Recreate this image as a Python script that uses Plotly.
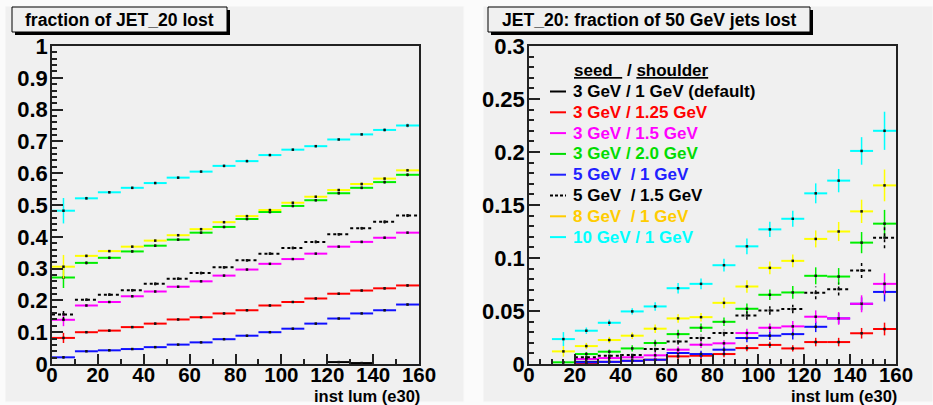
import plotly.graph_objects as go

# ---------------------------------------------------------------- data
BIN_CENTERS = [5, 15, 25, 35, 45, 55, 65, 75, 85, 95, 105, 115, 125, 135, 145, 155]
BIN_HALF = 5

SERIES_NAMES = ["3 GeV / 1 GeV (default)", "3 GeV / 1.25 GeV", "3 GeV / 1.5 GeV",
                "3 GeV / 2.0 GeV", "5 GeV\u00a0\u00a0/ 1 GeV", "5 GeV\u00a0\u00a0/ 1.5 GeV",
                "8 GeV\u00a0\u00a0/ 1 GeV", "10 GeV / 1 GeV"]
LINE_COLORS = ["#000000", "#ff0000", "#ff00ff", "#00ee00", "#1010ff", "#000000", "#ffff00", "#00ffff"]
TEXT_COLORS = ["#000000", "#ff0000", "#ff00ff", "#00dd00", "#2020ff", "#000000", "#ffcc00", "#00ffff"]
DASHED = [False, False, False, False, False, True, False, False]

# fraction of JET_20 lost
default_l = [None, None, None, None, None, None, None, None, None, None, None, None, 0.006, 0.003, None, None]
red_l = [0.082, 0.100, 0.105, 0.116, 0.127, 0.140, 0.147, 0.159, 0.169, 0.184, 0.195, 0.206, 0.221, 0.231, 0.238, 0.247]
magenta_l = [0.139, 0.184, 0.195, 0.213, 0.228, 0.243, 0.260, 0.278, 0.297, 0.315, 0.330, 0.347, 0.369, 0.384, 0.397, 0.413]
green_l = [0.272, 0.318, 0.334, 0.354, 0.372, 0.391, 0.413, 0.431, 0.456, 0.478, 0.497, 0.515, 0.537, 0.554, 0.572, 0.595]
blue_l = [0.021, 0.040, 0.043, 0.047, 0.053, 0.061, 0.068, 0.078, 0.089, 0.100, 0.111, 0.127, 0.143, 0.159, 0.169, 0.187]
dotted_l = [0.156, 0.202, 0.218, 0.232, 0.252, 0.268, 0.286, 0.304, 0.326, 0.347, 0.365, 0.384, 0.408, 0.427, 0.447, 0.467]
yellow_l = [0.306, 0.340, 0.355, 0.369, 0.388, 0.405, 0.424, 0.446, 0.465, 0.484, 0.507, 0.526, 0.547, 0.566, 0.583, 0.609]
cyan_l = [0.482, 0.521, 0.540, 0.554, 0.569, 0.586, 0.605, 0.623, 0.638, 0.657, 0.674, 0.685, 0.706, 0.722, 0.736, 0.750]

default_le = [None, None, None, None, None, None, None, None, None, None, None, None, 0.003, 0.002, None, None]
red_le = [0.016, 0.003, 0.003, 0.003, 0.003, 0.003, 0.003, 0.003, 0.003, 0.003, 0.003, 0.003, 0.003, 0.003, 0.004, 0.004]
magenta_le = [0.020, 0.004, 0.003, 0.003, 0.003, 0.003, 0.003, 0.003, 0.003, 0.003, 0.003, 0.003, 0.004, 0.004, 0.004, 0.004]
green_le = [0.033, 0.005, 0.004, 0.004, 0.004, 0.004, 0.004, 0.004, 0.004, 0.004, 0.004, 0.004, 0.004, 0.004, 0.005, 0.005]
blue_le = [0.004, 0.002, 0.002, 0.002, 0.002, 0.002, 0.002, 0.002, 0.002, 0.002, 0.002, 0.002, 0.002, 0.002, 0.003, 0.003]
dotted_le = [0.018, 0.004, 0.004, 0.004, 0.004, 0.004, 0.004, 0.004, 0.004, 0.004, 0.004, 0.004, 0.004, 0.004, 0.005, 0.005]
yellow_le = [0.037, 0.005, 0.004, 0.004, 0.004, 0.004, 0.004, 0.004, 0.004, 0.004, 0.004, 0.004, 0.004, 0.005, 0.005, 0.005]
cyan_le = [0.040, 0.005, 0.004, 0.004, 0.004, 0.004, 0.004, 0.004, 0.004, 0.004, 0.004, 0.004, 0.004, 0.004, 0.005, 0.006]

# JET_20: fraction of 50 GeV jets lost
default_r = [None, None, 0.002, None, None, None, None, None, None, None, None, None, None, None, None, None]
red_r = [None, None, 0.001, 0.002, 0.003, 0.004, 0.0072, 0.0078, 0.0094, 0.015, 0.018, 0.0147, 0.0207, 0.0207, 0.029, 0.033]
magenta_r = [None, None, 0.0047, 0.0056, 0.0063, 0.0082, 0.0135, 0.0182, 0.0195, 0.0292, 0.0342, 0.0355, 0.0446, 0.043, 0.0568, 0.0756]
green_r = [None, 0.0016, 0.0094, 0.0116, 0.0147, 0.0198, 0.0282, 0.0342, 0.0398, 0.0521, 0.0653, 0.0675, 0.0832, 0.0825, 0.1145, 0.1324]
blue_r = [None, None, 0.0016, 0.002, 0.003, 0.004, 0.0104, 0.0094, 0.0135, 0.0245, 0.0267, 0.0282, 0.0351, 0.043, 0.0568, 0.068]
dotted_r = [None, None, 0.0063, 0.0078, 0.0085, 0.0141, 0.0213, 0.0245, 0.0292, 0.0458, 0.0505, 0.0518, 0.0671, 0.0706, 0.0882, 0.1192]
yellow_r = [None, 0.0119, 0.0169, 0.0226, 0.0267, 0.0333, 0.043, 0.0442, 0.0577, 0.0731, 0.0907, 0.0973, 0.118, 0.125, 0.144, 0.1685]
cyan_r = [None, 0.0235, 0.0314, 0.0389, 0.0496, 0.0543, 0.0715, 0.0756, 0.0932, 0.111, 0.127, 0.137, 0.161, 0.173, 0.201, 0.220]

default_re = [None, None, 0.001, None, None, None, None, None, None, None, None, None, None, None, None, None]
red_re = [None, None, 0.001, 0.001, 0.0015, 0.002, 0.003, 0.003, 0.003, 0.003, 0.003, 0.003, 0.004, 0.004, 0.005, 0.006]
magenta_re = [None, None, 0.002, 0.002, 0.002, 0.003, 0.003, 0.003, 0.003, 0.004, 0.004, 0.005, 0.006, 0.006, 0.008, 0.010]
green_re = [None, 0.001, 0.002, 0.002, 0.003, 0.003, 0.004, 0.004, 0.004, 0.005, 0.005, 0.006, 0.008, 0.008, 0.010, 0.013]
blue_re = [None, None, 0.001, 0.001, 0.0015, 0.002, 0.002, 0.003, 0.003, 0.004, 0.004, 0.005, 0.005, 0.005, 0.006, 0.009]
dotted_re = [None, None, 0.002, 0.002, 0.002, 0.003, 0.003, 0.003, 0.003, 0.004, 0.004, 0.004, 0.006, 0.006, 0.007, 0.010]
yellow_re = [None, 0.005, 0.003, 0.003, 0.003, 0.004, 0.004, 0.004, 0.005, 0.006, 0.006, 0.006, 0.008, 0.009, 0.011, 0.015]
cyan_re = [None, 0.0066, 0.003, 0.003, 0.003, 0.004, 0.005, 0.005, 0.006, 0.0074, 0.0072, 0.0075, 0.0094, 0.011, 0.013, 0.018]

LEFT_VALUES = [default_l, red_l, magenta_l, green_l, blue_l, dotted_l, yellow_l, cyan_l]
LEFT_ERRORS = [default_le, red_le, magenta_le, green_le, blue_le, dotted_le, yellow_le, cyan_le]
RIGHT_VALUES = [default_r, red_r, magenta_r, green_r, blue_r, dotted_r, yellow_r, cyan_r]
RIGHT_ERRORS = [default_re, red_re, magenta_re, green_re, blue_re, dotted_re, yellow_re, cyan_re]

LEFT_YTICKS = [0, 0.1, 0.2, 0.3, 0.4, 0.5, 0.6, 0.7, 0.8, 0.9, 1]
LEFT_YLABELS = ["0", "0.1", "0.2", "0.3", "0.4", "0.5", "0.6", "0.7", "0.8", "0.9", "1"]
RIGHT_YTICKS = [0, 0.05, 0.1, 0.15, 0.2, 0.25, 0.3]
RIGHT_YLABELS = ["0", "0.05", "0.1", "0.15", "0.2", "0.25", "0.3"]
XTICKS = [0, 20, 40, 60, 80, 100, 120, 140, 160]
XLABELS = ["0", "20", "40", "60", "80", "100", "120", "140", "160"]

LEFT_TITLE = "fraction of JET_20 lost"
RIGHT_TITLE = "JET_20: fraction of 50 GeV jets lost"
X_TITLE = "inst lum (e30)"
LEGEND_HEADER = "<u>seed\u00a0\u00a0</u>\u00a0/ <u>shoulder</u>"

# ---------------------------------------------------------------- layout helpers
W, H = 933, 405
FONT = "Liberation Sans, Arial, Helvetica, sans-serif"
PAD_BG = "#f0f0f0"


def px(x):
    return x / W


def py(y):
    return 1 - y / H


def segments(vals, errs):
    """Horizontal bin lines and vertical error bars, as None-separated paths."""
    hx, hy, vx, vy, mx, my = [], [], [], [], [], []
    for c, v, e in zip(BIN_CENTERS, vals, errs):
        if v is None:
            continue
        hx += [c - BIN_HALF, c + BIN_HALF, None]
        hy += [v, v, None]
        vx += [c, c, None]
        vy += [v - e, v + e, None]
        mx.append(c)
        my.append(v)
    return hx, hy, vx, vy, mx, my


fig = go.Figure()

# draw order: default, red, blue, magenta, green, dotted, yellow, cyan
ORDER = [0, 1, 4, 2, 3, 5, 6, 7]
for axis_suffix, values, errors in (("", LEFT_VALUES, LEFT_ERRORS), ("2", RIGHT_VALUES, RIGHT_ERRORS)):
    for i in ORDER:
        hx, hy, vx, vy, mx, my = segments(values[i], errors[i])
        dash = "3px,3px" if DASHED[i] else "solid"
        common = dict(xaxis="x" + axis_suffix, yaxis="y" + axis_suffix, showlegend=False,
                      hoverinfo="skip")
        fig.add_trace(go.Scatter(x=hx, y=hy, mode="lines",
                                 line=dict(color=LINE_COLORS[i], width=2, dash=dash), **common))
        fig.add_trace(go.Scatter(x=vx, y=vy, mode="lines",
                                 line=dict(color=LINE_COLORS[i], width=1.5, dash=dash), **common))
        fig.add_trace(go.Scatter(x=mx, y=my, mode="markers",
                                 marker=dict(color="#111111", size=2.5, symbol="square",
                                             line=dict(width=0)), **common))

LEFT_X = (52, 419)
RIGHT_X = (529, 896)
PLOT_Y = (46, 364)

axis_common = dict(showgrid=False, zeroline=False, showline=True, linecolor="#222222",
                   linewidth=1.5, mirror=True, ticks="inside", tickcolor="#222222",
                   tickwidth=1.5, fixedrange=True, automargin=False)


def xaxis_cfg(domain, minor_step):
    return dict(domain=[px(domain[0]), px(domain[1])], range=[0, 160],
                tickvals=XTICKS, ticktext=XLABELS, ticklen=10, ticklabelstandoff=-8,
                tickfont=dict(family=FONT, size=20.5, color="black", weight="bold"),
                minor=dict(dtick=minor_step, tick0=0, ticklen=5, ticks="inside",
                           tickcolor="#222222", tickwidth=1.5),
                **axis_common)


def yaxis_cfg(anchor, top, ticks, labels, minor_step):
    return dict(domain=[py(PLOT_Y[1]), py(PLOT_Y[0])], range=[0, top], anchor=anchor,
                tickvals=ticks, ticktext=labels, ticklen=11, ticklabelstandoff=-2,
                tickfont=dict(family=FONT, size=22, color="black", weight="bold"),
                minor=dict(dtick=minor_step, tick0=0, ticklen=5, ticks="inside",
                           tickcolor="#222222", tickwidth=1.5),
                **axis_common)


shapes = []
annotations = []

# pads
for x0, x1 in ((5, 464), (483, 933)):
    shapes.append(dict(type="rect", xref="paper", yref="paper", x0=px(x0), x1=px(x1),
                       y0=py(402), y1=py(6), fillcolor=PAD_BG,
                       line=dict(color="#fafafa", width=1), layer="below"))

# title boxes with drop shadow
for (x0, x1), text in (((12, 227), LEFT_TITLE), ((488, 810), RIGHT_TITLE)):
    shapes.append(dict(type="rect", xref="paper", yref="paper", x0=px(x0 + 3), x1=px(x1 + 3),
                       y0=py(35), y1=py(10), fillcolor="black", line=dict(width=0),
                       layer="above"))
    shapes.append(dict(type="rect", xref="paper", yref="paper", x0=px(x0), x1=px(x1),
                       y0=py(32), y1=py(7), fillcolor=PAD_BG,
                       line=dict(color="black", width=1), layer="above"))
    annotations.append(dict(xref="paper", yref="paper", x=px((x0 + x1) / 2), y=py(19.5),
                            text=text, showarrow=False, xanchor="center", yanchor="middle",
                            font=dict(family=FONT, size=17.6, color="black", weight="bold")))

# x-axis titles
for xr in (LEFT_X[1], RIGHT_X[1]):
    annotations.append(dict(xref="paper", yref="paper", x=px(xr + 2), y=py(395.5),
                            text=X_TITLE, showarrow=False, xanchor="right", yanchor="middle",
                            borderpad=0,
                            font=dict(family=FONT, size=16.5, color="black", weight="bold")))

# legend of the right pad
annotations.append(dict(xref="paper", yref="paper", x=px(572), y=py(70), text=LEGEND_HEADER,
                        showarrow=False, xanchor="left", yanchor="middle",
                        font=dict(family=FONT, size=17, color="black", weight="bold")))
LEG_Y0, LEG_DY = 91.5, 20.8
for i, name in enumerate(SERIES_NAMES):
    yy = LEG_Y0 + i * LEG_DY
    shapes.append(dict(type="line", xref="paper", yref="paper", x0=px(550), x1=px(566),
                       y0=py(yy), y1=py(yy),
                       line=dict(color=TEXT_COLORS[i], width=2,
                                 dash="3px,2px" if DASHED[i] else "solid")))
    annotations.append(dict(xref="paper", yref="paper", x=px(571), y=py(yy), text=name,
                            showarrow=False, xanchor="left", yanchor="middle",
                            font=dict(family=FONT, size=17, color=TEXT_COLORS[i],
                                      weight="bold")))

fig.update_layout(
    width=W, height=H,
    autosize=False,
    margin=dict(l=0, r=0, t=0, b=0, pad=0),
    paper_bgcolor="#fbfbfb",
    plot_bgcolor="rgba(0,0,0,0)",
    xaxis=xaxis_cfg(LEFT_X, 10) | dict(anchor="y"),
    yaxis=yaxis_cfg("x", 1, LEFT_YTICKS, LEFT_YLABELS, 0.02),
    xaxis2=xaxis_cfg(RIGHT_X, 5) | dict(anchor="y2"),
    yaxis2=yaxis_cfg("x2", 0.3, RIGHT_YTICKS, RIGHT_YLABELS, 0.01),
    shapes=shapes,
    annotations=annotations,
    showlegend=False,
)

fig.write_html(
    "out.html",
    config=dict(displayModeBar=False, responsive=False),
    post_script="document.body.style.margin='0';document.body.style.overflow='hidden';",
)
